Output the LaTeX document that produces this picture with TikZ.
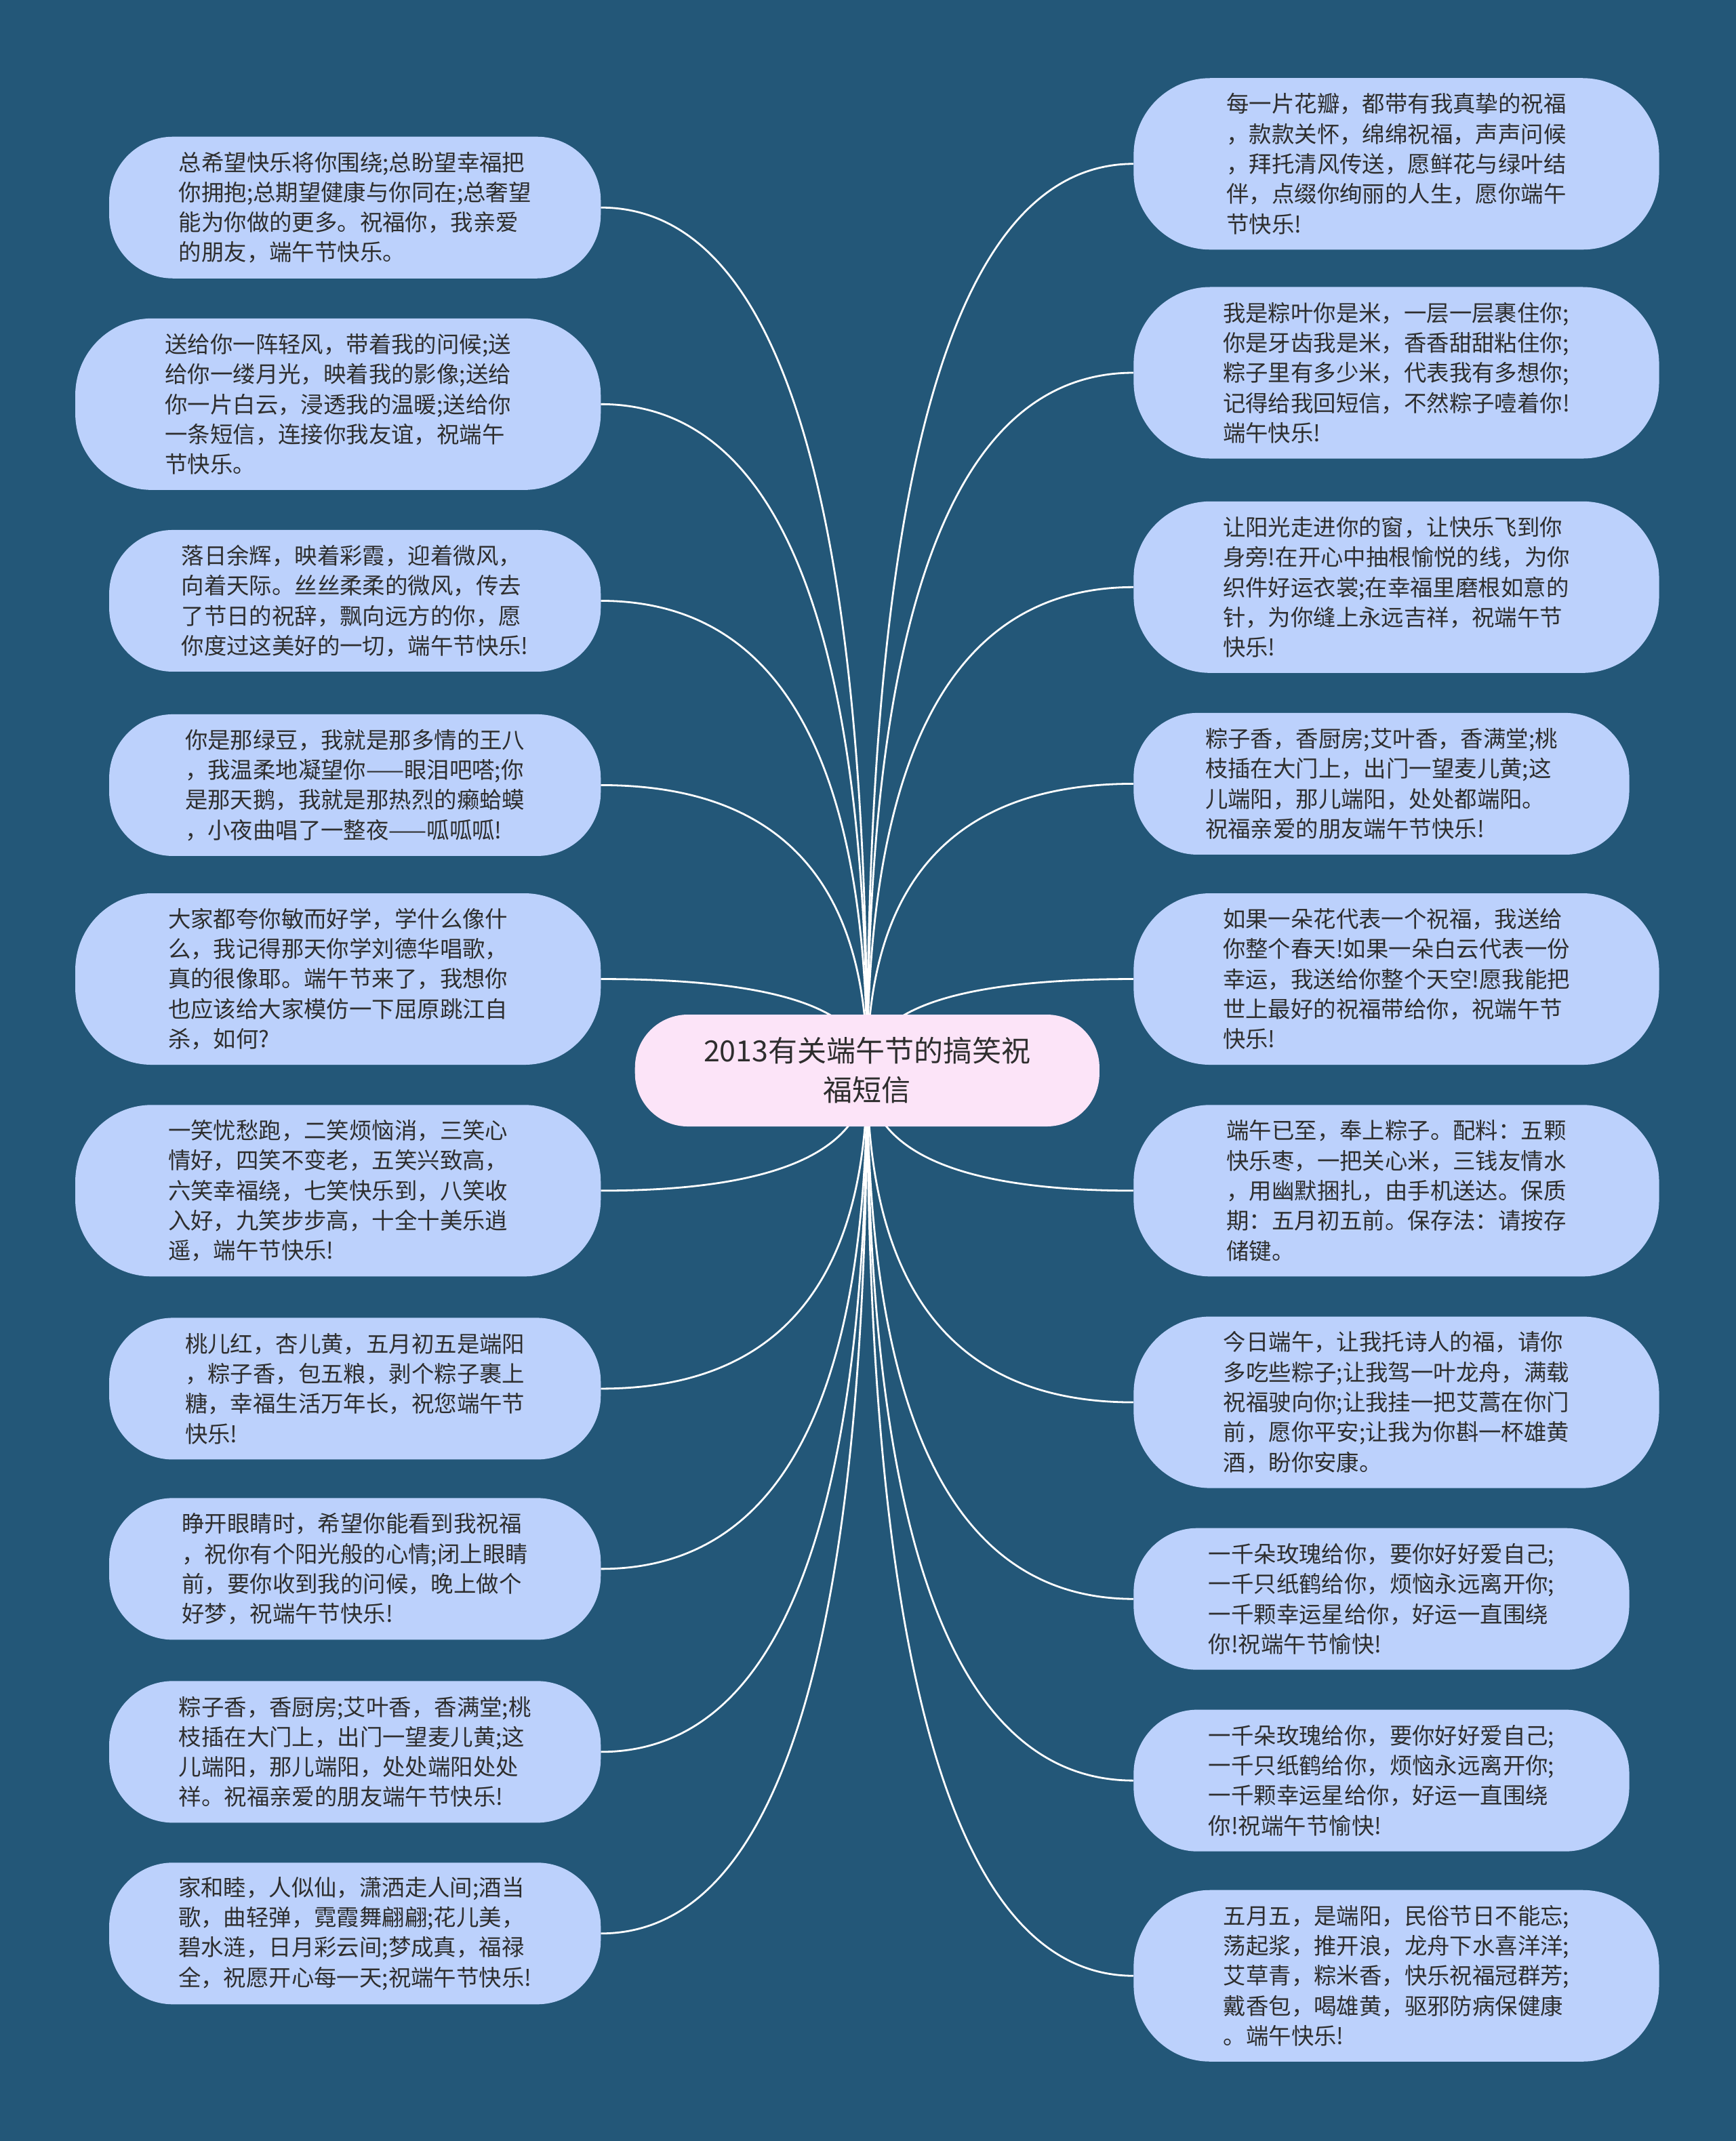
\documentclass[tikz,border=0pt]{standalone}
\usepackage{fontspec}
\newfontfamily\cjk{Noto Sans CJK SC}
\usetikzlibrary{calc}
\definecolor{bgc}{HTML}{235778}
\definecolor{boxc}{HTML}{BCD1FC}
\definecolor{ctrc}{HTML}{FCE4F8}
\definecolor{txtc}{HTML}{2E2E2E}
\pgfdeclarelayer{bgl}
\pgfdeclarelayer{lnl}
\pgfsetlayers{bgl,lnl,main}
\begin{document}
\begin{tikzpicture}[x=2.0142pt,y=-2.0142pt,
  leaf/.style={fill=boxc, text=txtc, font=\cjk\fontsize{33.4}{44.3}\selectfont, align=left, inner sep=0pt},
  four/.style={leaf, minimum height=209pt, rounded corners=94pt},
  five/.style={leaf, minimum height=253pt, rounded corners=113pt},
  narrow/.style={minimum width=725pt},
  wide/.style={minimum width=775pt},
  mid/.style={minimum width=731pt},
  lft/.style={anchor=east},
  rgt/.style={anchor=west},
  link/.style={draw=white, line width=2.8pt},
  root/.style={fill=ctrc, text=txtc, font=\cjk\fontsize{43}{58}\selectfont, align=center, inner sep=0pt, minimum width=685pt, minimum height=165pt, rounded corners=78pt}]
\useasboundingbox (0,0) rectangle (1271,1568);
\begin{pgfonlayer}{bgl}
\fill[bgc] (0,0) rectangle (1271,1568);
\end{pgfonlayer}

\node[root] (c) at (635,784) {2013有关端午节的搞笑祝\\福短信};

% left column
\node[four,narrow,lft] (L1) at (440,152) {总希望快乐将你围绕;总盼望幸福把\\你拥抱;总期望健康与你同在;总奢望\\能为你做的更多。祝福你，我亲爱\\的朋友，端午节快乐。};
\node[five,wide,lft] (L2) at (440,296) {送给你一阵轻风，带着我的问候;送\\给你一缕月光，映着我的影像;送给\\你一片白云，浸透我的温暖;送给你\\一条短信，连接你我友谊，祝端午\\节快乐。};
\node[four,narrow,lft] (L3) at (440,440) {落日余辉，映着彩霞，迎着微风，\\向着天际。丝丝柔柔的微风，传去\\了节日的祝辞，飘向远方的你，愿\\你度过这美好的一切，端午节快乐!};
\node[four,narrow,lft] (L4) at (440,575) {你是那绿豆，我就是那多情的王八\\，我温柔地凝望你——眼泪吧嗒;你\\是那天鹅，我就是那热烈的癞蛤蟆\\，小夜曲唱了一整夜——呱呱呱!};
\node[five,wide,lft] (L5) at (440,717) {大家都夸你敏而好学，学什么像什\\么，我记得那天你学刘德华唱歌，\\真的很像耶。端午节来了，我想你\\也应该给大家模仿一下屈原跳江自\\杀，如何?};
\node[five,wide,lft] (L6) at (440,872) {一笑忧愁跑，二笑烦恼消，三笑心\\情好，四笑不变老，五笑兴致高，\\六笑幸福绕，七笑快乐到，八笑收\\入好，九笑步步高，十全十美乐逍\\遥，端午节快乐!};
\node[four,narrow,lft] (L7) at (440,1017) {桃儿红，杏儿黄，五月初五是端阳\\，粽子香，包五粮，剥个粽子裹上\\糖，幸福生活万年长，祝您端午节\\快乐!};
\node[four,narrow,lft] (L8) at (440,1149) {睁开眼睛时，希望你能看到我祝福\\，祝你有个阳光般的心情;闭上眼睛\\前，要你收到我的问候，晚上做个\\好梦，祝端午节快乐!};
\node[four,narrow,lft] (L9) at (440,1283) {粽子香，香厨房;艾叶香，香满堂;桃\\枝插在大门上，出门一望麦儿黄;这\\儿端阳，那儿端阳，处处端阳处处\\祥。祝福亲爱的朋友端午节快乐!};
\node[four,narrow,lft] (L10) at (440,1416) {家和睦，人似仙，潇洒走人间;酒当\\歌，曲轻弹，霓霞舞翩翩;花儿美，\\碧水涟，日月彩云间;梦成真，福禄\\全，祝愿开心每一天;祝端午节快乐!};

% right column
\node[five,wide,rgt] (R1) at (830,120) {每一片花瓣，都带有我真挚的祝福\\，款款关怀，绵绵祝福，声声问候\\，拜托清风传送，愿鲜花与绿叶结\\伴，点缀你绚丽的人生，愿你端午\\节快乐!};
\node[five,wide,rgt] (R2) at (830,273) {我是粽叶你是米，一层一层裹住你;\\你是牙齿我是米，香香甜甜粘住你;\\粽子里有多少米，代表我有多想你;\\记得给我回短信，不然粽子噎着你!\\端午快乐!};
\node[five,wide,rgt] (R3) at (830,430) {让阳光走进你的窗，让快乐飞到你\\身旁!在开心中抽根愉悦的线，为你\\织件好运衣裳;在幸福里磨根如意的\\针，为你缝上永远吉祥，祝端午节\\快乐!};
\node[four,mid,rgt] (R4) at (830,574) {粽子香，香厨房;艾叶香，香满堂;桃\\枝插在大门上，出门一望麦儿黄;这\\儿端阳，那儿端阳，处处都端阳。\\祝福亲爱的朋友端午节快乐!};
\node[five,wide,rgt] (R5) at (830,717) {如果一朵花代表一个祝福，我送给\\你整个春天!如果一朵白云代表一份\\幸运，我送给你整个天空!愿我能把\\世上最好的祝福带给你，祝端午节\\快乐!};
\node[five,wide,rgt] (R6) at (830,872) {端午已至，奉上粽子。配料：五颗\\快乐枣，一把关心米，三钱友情水\\，用幽默捆扎，由手机送达。保质\\期：五月初五前。保存法：请按存\\储键。};
\node[five,wide,rgt] (R7) at (830,1027) {今日端午，让我托诗人的福，请你\\多吃些粽子;让我驾一叶龙舟，满载\\祝福驶向你;让我挂一把艾蒿在你门\\前，愿你平安;让我为你斟一杯雄黄\\酒，盼你安康。};
\node[four,mid,rgt] (R8) at (830,1171) {一千朵玫瑰给你，要你好好爱自己;\\一千只纸鹤给你，烦恼永远离开你;\\一千颗幸运星给你，好运一直围绕\\你!祝端午节愉快!};
\node[four,mid,rgt] (R9) at (830,1304) {一千朵玫瑰给你，要你好好爱自己;\\一千只纸鹤给你，烦恼永远离开你;\\一千颗幸运星给你，好运一直围绕\\你!祝端午节愉快!};
\node[five,wide,rgt] (R10) at (830,1447) {五月五，是端阳，民俗节日不能忘;\\荡起浆，推开浪，龙舟下水喜洋洋;\\艾草青，粽米香，快乐祝福冠群芳;\\戴香包，喝雄黄，驱邪防病保健康\\。端午快乐!};

% connectors
\begin{pgfonlayer}{lnl}
\foreach \i in {1,...,10}{
  \coordinate (kl\i) at (c.center |- L\i.east);
  \draw[link] (c.center) .. controls ($(c.center)!.667!(kl\i)$) and ($(L\i.east)!.667!(kl\i)$) .. (L\i.east);
  \coordinate (kr\i) at (c.center |- R\i.west);
  \draw[link] (c.center) .. controls ($(c.center)!.667!(kr\i)$) and ($(R\i.west)!.667!(kr\i)$) .. (R\i.west);
}
\end{pgfonlayer}
\end{tikzpicture}
\end{document}
